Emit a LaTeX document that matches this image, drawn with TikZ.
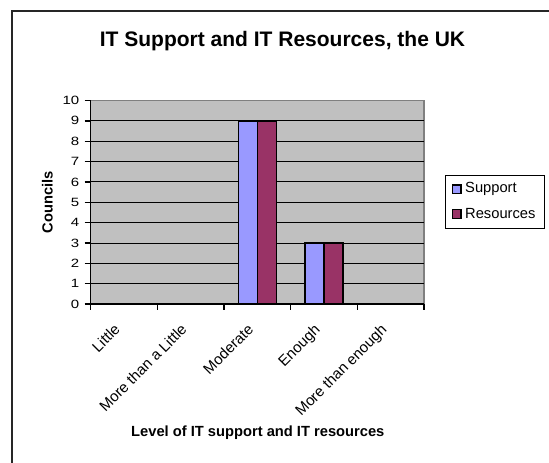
\documentclass[tikz,border=0pt]{standalone}
\usepackage{fontspec}
\setmainfont{Liberation Sans}
\definecolor{plotbg}{HTML}{C0C0C0}
\definecolor{suppc}{HTML}{9999FF}
\definecolor{resoc}{HTML}{993366}
\definecolor{pborder}{HTML}{808080}
\begin{document}
\begin{tikzpicture}[x=1pt,y=-1pt,
  titlefont/.style={font=\fontsize{21}{25}\selectfont\bfseries, inner sep=0, anchor=base},
  axtitle/.style={font=\fontsize{14.7}{17}\selectfont\bfseries, inner sep=0, anchor=base},
  ytick/.style={font=\fontsize{12}{14}\selectfont, anchor=east, inner sep=0},
  xlab/.style={font=\fontsize{15}{17}\selectfont, anchor=base east, rotate=45, inner sep=0},
  legtext/.style={font=\fontsize{14.7}{17}\selectfont, anchor=west, inner sep=0},
  barbox/.style={draw=black, line width=1.8pt},
  gridln/.style={draw=black, line width=0.9pt},
  axisln/.style={draw=black, line width=1.4pt},
  legmark/.style={draw=black, line width=1.5pt}
]
\useasboundingbox (0,0) rectangle (549,463);
\fill[white] (0,0) rectangle (549,463);
% outer frame
\draw[line width=1.5pt, black!85] (12,463) -- (12,11) -- (549,11);
% title
\node[titlefont] (title) at (282.5,46) {IT Support and IT Resources, the UK};
% plot area
\fill[plotbg] (90.7,100.5) rectangle (424.3,304);
\draw[pborder, line width=1.8pt] (90.7,100.5) -- (424.3,100.5) -- (424.3,304);
\foreach \k in {1,...,9}
  \draw[gridln] (90.7,{304-20.35*\k}) -- (424.3,{304-20.35*\k});
% bars
\draw[barbox, fill=suppc] (238.4,304) rectangle (257.4,{304-20.35*9});
\draw[barbox, fill=resoc] (257.4,304) rectangle (276.4,{304-20.35*9});
\draw[barbox, fill=suppc] (305.0,304) rectangle (324.0,{304-20.35*3});
\draw[barbox, fill=resoc] (324.0,304) rectangle (343.0,{304-20.35*3});
% axes
\draw[axisln] (90.7,100.5) -- (90.7,304) -- (424.3,304);
\foreach \k in {0,...,10}
  \draw[axisln] (84.5,{304-20.35*\k}) -- (90.7,{304-20.35*\k});
\foreach \i in {0,...,5}
  \draw[axisln] ({90.7+66.67*\i},304) -- ({90.7+66.67*\i},310);
% y tick labels
\foreach \k in {0,...,10}
  \node[ytick] (yt\k) at (79.5,{304-20.35*\k}) {\scalebox{1.25}[1]{\k}};
% x labels
\node[xlab] (xl1) at (121.0,330.5) {Little};
\node[xlab] (xl2) at (187.7,330.5) {More than a Little};
\node[xlab] (xl3) at (254.4,330.5) {Moderate};
\node[xlab] (xl4) at (321.0,330.5) {Enough};
\node[xlab] (xl5) at (387.7,330.5) {More than enough};
% axis titles
\node[axtitle, rotate=90] (ytitle) at (52.7,202.5) {Councils};
\node[axtitle] (xtitle) at (257.8,436.7) {Level of IT support and IT resources};
% legend
\draw[line width=0.8pt, fill=white] (445.7,175) rectangle (544,228.3);
\draw[legmark, fill=suppc] (452.3,185) rectangle (461,193.7);
\draw[legmark, fill=resoc] (452.3,209.7) rectangle (461,218.4);
\node[legtext] (lg1) at (465,189.3) {Support};
\node[legtext] (lg2) at (465,214) {Resources};
\end{tikzpicture}
\end{document}
